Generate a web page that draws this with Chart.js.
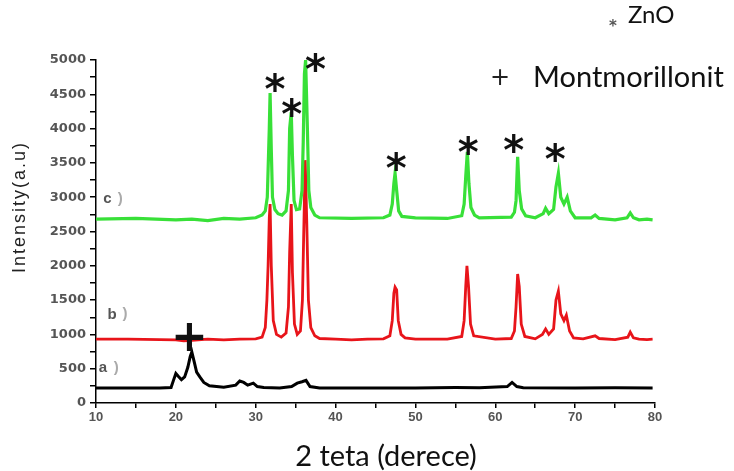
<!DOCTYPE html>
<html>
<head>
<meta charset="utf-8">
<script src="https://cdn.jsdelivr.net/npm/chart.js@4.4.1/dist/chart.umd.min.js"></script>
<style>
  html, body { margin: 0; padding: 0; background: #fff; }
  #wrap { width: 734px; height: 471px; position: relative; }
</style>
</head>
<body>
<div id="wrap"><canvas id="xrd"></canvas></div>
<script>
// c) ZnO / montmorillonit (green), b) (red), a) montmorillonit (black)  -- [2theta, intensity]
const serieC = [[10,2680],[15,2690],[20,2670],[22,2680],[24,2660],[26,2690],[28,2680],[30,2700],[30.8,2740],[31.2,2800],[31.45,3000],[31.55,3400],[31.7,4000],[31.8,4520],[31.95,3700],[32.1,3000],[32.4,2820],[32.8,2760],[33.3,2740],[33.8,2800],[34.1,3100],[34.25,4000],[34.45,4240],[34.6,3600],[34.8,2950],[35.1,2820],[35.5,2830],[35.8,3100],[35.95,3800],[36.1,4800],[36.25,5000],[36.45,4100],[36.65,3100],[36.9,2850],[37.4,2740],[38,2700],[42,2690],[46,2700],[46.8,2740],[47.1,2900],[47.3,3200],[47.45,3350],[47.65,3100],[47.9,2800],[48.3,2720],[50,2700],[54,2690],[55.8,2730],[56.1,2900],[56.3,3300],[56.5,3660],[56.7,3200],[56.95,2850],[57.4,2740],[58,2700],[62,2710],[62.4,2780],[62.6,2950],[62.8,3590],[63.0,3100],[63.3,2830],[63.8,2730],[65,2700],[66.0,2760],[66.3,2840],[66.7,2760],[67.3,2820],[67.6,3150],[67.9,3350],[68.2,3000],[68.6,2900],[69.0,3000],[69.4,2800],[70,2700],[72,2700],[72.5,2740],[73,2690],[75,2670],[76.5,2700],[76.9,2770],[77.3,2700],[78,2670],[79,2680],[79.7,2670]];
const serieB = [[10,930],[14,930],[18,925],[20,920],[21,905],[22,915],[24,930],[26,920],[28,930],[30,935],[30.8,960],[31.2,1100],[31.4,1500],[31.55,2000],[31.7,2700],[31.8,2900],[31.95,2000],[32.2,1200],[32.6,1000],[33.2,960],[33.8,1020],[34.1,1400],[34.25,2200],[34.45,2900],[34.6,1900],[34.85,1150],[35.2,1000],[35.6,1050],[35.85,1500],[36.0,2400],[36.2,3540],[36.4,2600],[36.6,1500],[36.9,1100],[37.4,980],[38,940],[40,930],[42,920],[44,930],[46,935],[46.8,980],[47.1,1200],[47.3,1600],[47.45,1690],[47.65,1650],[47.85,1200],[48.2,1000],[48.7,950],[50,930],[54,930],[55.8,970],[56.1,1200],[56.3,1700],[56.45,2000],[56.65,1700],[56.9,1150],[57.3,980],[60,930],[62,940],[62.4,1050],[62.6,1400],[62.8,1880],[63.0,1700],[63.25,1150],[63.7,970],[65,935],[65.9,1000],[66.3,1080],[66.7,1000],[67.3,1080],[67.6,1500],[67.9,1630],[68.2,1300],[68.6,1200],[68.9,1280],[69.3,1050],[69.8,950],[71,935],[72.5,980],[73,940],[75,925],[76.6,960],[76.9,1035],[77.3,950],[78,930],[79,925],[79.7,930]];
const serieA = [[10,220],[14,220],[18,220],[19.4,225],[19.7,330],[20.0,430],[20.3,390],[20.7,340],[21.1,380],[21.5,520],[21.8,680],[22.0,745],[22.3,600],[22.6,450],[23.0,380],[23.5,300],[24.2,250],[26,230],[27.5,260],[28,320],[28.5,300],[29,260],[29.7,290],[30.2,240],[31,225],[33,220],[34.5,240],[35.2,290],[35.8,310],[36.3,330],[36.8,240],[38,220],[50,220],[55,225],[58,222],[61.5,240],[62.1,300],[62.7,240],[63.5,222],[70,220],[75,222],[79.7,220]];

// ZnO asterisks (2theta, intensity) and montmorillonit cross
const starX = [32.4, 34.5, 37.5, 47.6, 56.6, 62.3, 67.5];
const starY = [4680, 4315, 4970, 3530, 3760, 3790, 3660];
const crossX = [21.7];
const crossY = [960];

const xMin = 10, xMax = 80, xStep = 5, xLabelStep = 10;
const yMin = 0, yMax = 5000, yStep = 250, yLabelStep = 500;

const toPts = s => s.map(p => ({ x: p[0], y: p[1] }));

function drawCentered(ctx, txt, cx, cy) {
    const m = ctx.measureText(txt);
    const x0 = cx - (m.actualBoundingBoxRight - m.actualBoundingBoxLeft) / 2;
    const y0 = cy + (m.actualBoundingBoxAscent - m.actualBoundingBoxDescent) / 2;
    ctx.fillText(txt, x0, y0);
}

const textPlugin = {
    id: 'texts',
    afterDraw(chart) {
        const ctx = chart.ctx, xs = chart.scales.x, ys = chart.scales.y;
        ctx.save();
        ctx.textAlign = 'left';
        ctx.textBaseline = 'alphabetic';

        // asterisks above ZnO peaks
        ctx.fillStyle = '#111';
        ctx.font = 'bold 40px "DejaVu Sans"';
        starX.forEach((x, i) => drawCentered(ctx, '*', xs.getPixelForValue(x), ys.getPixelForValue(starY[i])));
        // montmorillonit cross
        ctx.font = 'bold 44px "DejaVu Sans"';
        crossX.forEach((x, i) => drawCentered(ctx, '+', xs.getPixelForValue(x), ys.getPixelForValue(crossY[i])));

        // series labels
        ctx.font = 'bold 15px "Liberation Sans"';
        [['c', 11.4, 2975], ['b', 12.0, 1300], ['a', 10.9, 510]].forEach(l => {
            const px = xs.getPixelForValue(l[1]), py = ys.getPixelForValue(l[2]);
            ctx.fillStyle = '#555';
            drawCentered(ctx, l[0], px, py);
            ctx.fillStyle = '#aaa';
            drawCentered(ctx, ')', px + 13, py);
        });

        // axis titles
        ctx.fillStyle = '#222';
        ctx.font = '18px "Liberation Sans"';
        ctx.letterSpacing = '2px';
        ctx.save();
        ctx.translate(20, 207);
        ctx.rotate(-Math.PI / 2);
        ctx.textAlign = 'center';
        ctx.textBaseline = 'middle';
        ctx.fillText('Intensity(a.u)', 0, 0);
        ctx.restore();
        ctx.letterSpacing = '0px';

        ctx.fillStyle = '#111';
        ctx.font = '29px Lato';
        ctx.textAlign = 'center';
        ctx.fillText('2 teta (derece)', 386, 466);

        // legend
        ctx.textAlign = 'left';
        ctx.font = '24px Lato';
        ctx.fillText('ZnO', 628, 23);
        ctx.font = '29px Lato';
        ctx.fillText('Montmorillonit', 533, 87);
        ctx.fillStyle = '#555';
        ctx.font = 'bold 15px "DejaVu Sans"';
        drawCentered(ctx, '*', 613, 23);
        ctx.fillStyle = '#222';
        ctx.font = '24px "DejaVu Sans"';
        drawCentered(ctx, '+', 500, 77);
        ctx.restore();
    }
};

new Chart(document.getElementById('xrd'), {
    type: 'scatter',
    data: {
        datasets: [
            { label: 'c', data: toPts(serieC), showLine: true, borderColor: '#38e038', borderWidth: 3.2, pointRadius: 0, order: 1 },
            { label: 'b', data: toPts(serieB), showLine: true, borderColor: '#e8141a', borderWidth: 2.8, pointRadius: 0, order: 2 },
            { label: 'a', data: toPts(serieA), showLine: true, borderColor: '#000', borderWidth: 3, pointRadius: 0, order: 3 }
        ]
    },
    options: {
        responsive: true,
        maintainAspectRatio: false,
        animation: false,
        layout: { padding: { top: 60, right: 79, left: 0, bottom: 0 } },
        plugins: { legend: { display: false }, tooltip: { enabled: false } },
        scales: {
            x: {
                type: 'linear', min: xMin, max: xMax,
                afterFit: s => { s.height = 68; },
                ticks: {
                    stepSize: xStep, autoSkip: false, maxRotation: 0, padding: 2,
                    callback: v => v % xLabelStep === 0 ? v : '',
                    font: { family: 'Liberation Sans', size: 13, weight: 'bold' }, color: '#555'
                },
                grid: { drawOnChartArea: false, tickLength: 5, color: '#000', lineWidth: 1.5 },
                border: { color: '#000', width: 1.5 }
            },
            y: {
                min: yMin, max: yMax,
                afterFit: s => { s.width = 96; },
                ticks: {
                    stepSize: yStep, autoSkip: false, padding: 4,
                    callback: v => v % yLabelStep === 0 ? v : '',
                    font: { family: 'DejaVu Sans', size: 13, weight: 'bold' }, color: '#555'
                },
                grid: { drawOnChartArea: false, tickLength: 6, color: '#000', lineWidth: 1.5 },
                border: { color: '#000', width: 1.5 }
            }
        }
    },
    plugins: [textPlugin]
});
</script>
</body>
</html>
